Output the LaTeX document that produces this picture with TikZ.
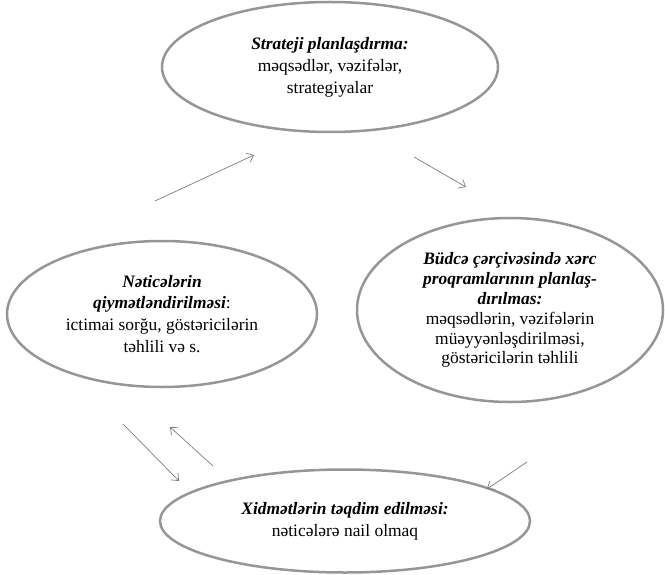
\documentclass[tikz,border=0pt]{standalone}
\usepackage{fontspec}
\setmainfont{Liberation Serif}
\usetikzlibrary{shapes.geometric,arrows.meta}
\definecolor{ovalgray}{RGB}{150,150,150}
\definecolor{arrowgray}{RGB}{125,125,125}
\begin{document}
\begin{tikzpicture}[x=1bp,y=-1bp,
  oval/.style={ellipse, draw=ovalgray, line width=2.5bp, inner sep=0pt, align=center,
    font=\fontsize{17.5}{22}\selectfont},
  conn/.style={draw=arrowgray, line width=0.7bp, -{Straight Barb[length=6bp,width=10bp]}}]
\useasboundingbox (0,0) rectangle (665,575);
\node[oval, minimum width=336bp, minimum height=130bp] (plan) at (330,67)
  {\textbf{\textit{Strateji planlaşdırma:}}\\məqsədlər, vəzifələr,\\strategiyalar};
\node[oval, minimum width=306bp, minimum height=184bp, font=\fontsize{17.5}{20}\selectfont] (budget) at (510,310)
  {\textbf{\textit{Büdcə çərçivəsində xərc}}\\\textbf{\textit{proqramlarının planlaş-}}\\\textbf{\textit{dırılmas:}}\\məqsədlərin, vəzifələrin\\müəyyənləşdirilməsi,\\göstəricilərin təhlili};
\node[oval, minimum width=310bp, minimum height=146bp] (eval) at (162,314)
  {\textbf{\textit{Nəticələrin}}\\\textbf{\textit{qiymətləndirilməsi}}:\\ictimai sorğu, göstəricilərin\\təhlili və s.};
\node[oval, minimum width=370bp, minimum height=103bp] (serv) at (345,521)
  {\textbf{\textit{Xidmətlərin təqdim edilməsi:}}\\nəticələrə nail olmaq};
\coordinate (a1s) at (155,201); \coordinate (a1e) at (254,155);
\coordinate (a2s) at (414,157); \coordinate (a2e) at (466,187);
\coordinate (a3s) at (527,462); \coordinate (a3e) at (487,489);
\coordinate (a4s) at (123,424); \coordinate (a4e) at (179,481);
\coordinate (a5s) at (213,466); \coordinate (a5e) at (170,427);
\draw[conn] (a1s) -- (a1e);
\draw[conn] (a2s) -- (a2e);
\draw[conn] (a3s) -- (a3e);
\draw[conn] (a4s) -- (a4e);
\draw[conn] (a5s) -- (a5e);
\end{tikzpicture}
\end{document}
